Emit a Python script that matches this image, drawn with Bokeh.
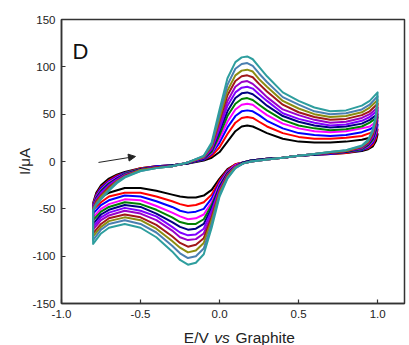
from bokeh.plotting import figure
from bokeh.layouts import column
from bokeh.models import FixedTicker, PrintfTickFormatter, Label, Arrow, NormalHead
from bokeh.embed import file_html
from bokeh.resources import INLINE

# potentials (V vs graphite) for the forward (upper) and reverse (lower) sweeps
E_fwd = [-0.80, -0.78, -0.75, -0.70, -0.65, -0.60, -0.50, -0.40, -0.30, -0.20, -0.10, -0.05,
         0.00, 0.05, 0.10, 0.14, 0.175, 0.21, 0.25, 0.30, 0.40, 0.50, 0.60, 0.70, 0.80, 0.90, 0.95, 1.00]
E_rev = [0.99, 0.97, 0.94, 0.90, 0.80, 0.70, 0.60, 0.50, 0.40, 0.30, 0.20, 0.15, 0.10, 0.05,
         0.00, -0.05, -0.10, -0.15, -0.20, -0.25, -0.30, -0.40, -0.50, -0.60, -0.70, -0.75, -0.80]

# currents (uA), one curve per colour, innermost (black) to outermost (teal)
fwd_black = [-44, -33, -25, -18, -14, -11, -7, -5, -4, -2, 1, 4, 10, 21, 32, 37, 38, 37, 34, 30, 24, 21, 20, 20, 21, 23, 25, 29]
rev_black = [22, 16, 13, 11, 9, 8, 7, 6, 4, 3, 1, -1, -3, -8, -18, -30, -36, -38, -38, -37, -35, -31, -28, -28, -33, -38, -46]
fwd_red = [-45, -35, -27, -20, -15, -12, -7, -5, -4, -2, 2, 6, 15, 29, 41, 46, 47, 46, 42, 37, 30, 26, 24, 24, 25, 27, 30, 34]
rev_red = [25, 18, 14, 12, 9, 8, 7, 6, 4, 3, 1, -1, -3, -9, -20, -35, -43, -46, -47, -45, -42, -37, -33, -33, -37, -43, -51]
fwd_blue = [-46, -36, -28, -21, -16, -12, -8, -5, -4, -2, 2, 8, 20, 36, 48, 53, 54, 53, 49, 43, 35, 30, 28, 27, 28, 31, 34, 39]
rev_blue = [28, 20, 15, 12, 10, 8, 7, 6, 4, 3, 1, -1, -4, -10, -22, -39, -50, -53, -54, -52, -48, -42, -37, -36, -41, -46, -55]
fwd_magenta = [-47, -37, -30, -22, -17, -13, -8, -6, -4, -2, 3, 9, 24, 42, 55, 60, 61, 60, 55, 49, 40, 35, 32, 31, 32, 35, 37, 43]
rev_magenta = [31, 22, 16, 13, 10, 9, 7, 6, 4, 3, 1, -1, -4, -11, -24, -43, -56, -60, -61, -58, -54, -47, -41, -40, -45, -50, -59]
fwd_green = [-47, -38, -31, -23, -18, -13, -8, -6, -4, -2, 3, 10, 28, 48, 61, 66, 67, 65, 60, 54, 44, 38, 35, 33, 34, 37, 41, 47]
rev_green = [33, 23, 17, 13, 10, 9, 7, 6, 4, 3, 1, -1, -5, -12, -26, -46, -61, -66, -66, -64, -59, -51, -45, -43, -48, -53, -62]
fwd_navy = [-48, -39, -32, -24, -18, -14, -8, -6, -4, -2, 3, 12, 32, 53, 67, 72, 73, 71, 66, 59, 48, 42, 38, 36, 37, 40, 44, 50]
rev_navy = [35, 25, 18, 14, 10, 9, 7, 6, 4, 3, 1, -1, -5, -13, -27, -49, -66, -71, -72, -69, -64, -55, -48, -46, -51, -56, -66]
fwd_violet = [-48, -40, -33, -25, -19, -14, -9, -6, -5, -1, 4, 13, 35, 59, 73, 78, 79, 77, 71, 64, 51, 45, 41, 38, 39, 43, 47, 54]
rev_violet = [38, 26, 19, 14, 11, 9, 8, 6, 4, 2, 0, -2, -5, -14, -29, -52, -71, -77, -78, -75, -69, -58, -52, -49, -54, -59, -69]
fwd_purple = [-49, -41, -35, -26, -20, -15, -9, -6, -5, -1, 4, 14, 39, 64, 79, 84, 85, 82, 76, 68, 55, 49, 44, 41, 42, 46, 50, 57]
rev_purple = [40, 28, 19, 15, 11, 9, 8, 6, 4, 2, 0, -2, -6, -14, -30, -56, -76, -82, -83, -80, -73, -62, -55, -52, -57, -62, -72]
fwd_wine = [-50, -42, -36, -27, -21, -15, -9, -6, -5, -1, 5, 16, 43, 70, 85, 90, 91, 89, 82, 74, 60, 52, 47, 44, 45, 49, 53, 61]
rev_wine = [42, 29, 20, 15, 11, 9, 8, 6, 4, 2, 0, -2, -6, -15, -32, -59, -81, -88, -90, -86, -79, -67, -59, -56, -60, -66, -76]
fwd_olive = [-50, -44, -37, -29, -21, -16, -9, -7, -5, -1, 5, 17, 46, 75, 91, 96, 97, 95, 87, 79, 64, 56, 50, 47, 48, 52, 57, 65]
rev_olive = [45, 31, 21, 16, 11, 10, 8, 6, 4, 2, 0, -2, -6, -16, -33, -62, -86, -94, -96, -91, -84, -71, -62, -59, -63, -69, -79]
fwd_steel = [-51, -45, -39, -30, -22, -16, -10, -7, -5, -1, 6, 18, 50, 81, 98, 103, 104, 101, 93, 84, 68, 60, 53, 50, 51, 55, 60, 69]
rev_steel = [47, 32, 22, 16, 12, 10, 8, 6, 4, 2, 0, -2, -7, -17, -35, -66, -92, -100, -102, -97, -89, -75, -66, -62, -66, -72, -83]
fwd_teal = [-52, -46, -40, -31, -23, -17, -10, -7, -5, -1, 6, 20, 55, 88, 105, 110, 111, 108, 100, 90, 73, 64, 57, 53, 54, 59, 64, 73]
rev_teal = [50, 34, 23, 17, 12, 10, 8, 6, 4, 2, 0, -2, -7, -18, -37, -70, -98, -107, -109, -104, -95, -80, -70, -66, -70, -76, -87]

curve_colors = ["#000000", "#FF0000", "#0000FF", "#FF00FF", "#008000", "#000080",
                "#8000FF", "#9A00C8", "#A01818", "#8C8C10", "#4A7FB0", "#2E9E9E"]
fwd_sets = [fwd_black, fwd_red, fwd_blue, fwd_magenta, fwd_green, fwd_navy,
            fwd_violet, fwd_purple, fwd_wine, fwd_olive, fwd_steel, fwd_teal]
rev_sets = [rev_black, rev_red, rev_blue, rev_magenta, rev_green, rev_navy,
            rev_violet, rev_purple, rev_wine, rev_olive, rev_steel, rev_teal]

x_ticks = [-1.0, -0.5, 0.0, 0.5, 1.0]
y_ticks = [-150, -100, -50, 0, 50, 100, 150]
arrow_start = (-0.766, -1)
arrow_end = (-0.532, 5.3)

FONT = "Liberation Sans"
AX = "#333333"

p = figure(width=409, height=324, x_range=(-1.0, 1.17), y_range=(-150, 150),
           output_backend="svg", toolbar_location=None,
           min_border_left=61, min_border_right=5, min_border_top=19, min_border_bottom=21)
p.background_fill_color = "white"
p.border_fill_color = "white"
p.outline_line_color = AX
p.outline_line_width = 1.5
p.xgrid.visible = False
p.ygrid.visible = False

for col, f, r in zip(curve_colors, fwd_sets, rev_sets):
    xs = E_fwd + E_rev + [E_fwd[0]]
    ys = f + r + [f[0]]
    p.line(xs, ys, line_color=col, line_width=2, line_join="round")

for ax in (p.xaxis[0], p.yaxis[0]):
    ax.axis_line_color = AX
    ax.axis_line_width = 1.5
    ax.major_tick_line_color = AX
    ax.major_tick_line_width = 1.2
    ax.major_tick_in = 4
    ax.major_tick_out = 0
    ax.minor_tick_line_color = None
    ax.major_label_text_font = FONT
    ax.major_label_text_font_size = "11.5px"
    ax.major_label_text_color = "#222222"
    ax.major_label_standoff = 6

p.xaxis.ticker = FixedTicker(ticks=x_ticks)
p.xaxis.formatter = PrintfTickFormatter(format="%.1f")
p.yaxis.ticker = FixedTicker(ticks=y_ticks)
p.yaxis.formatter = PrintfTickFormatter(format="%d")

p.yaxis.axis_label = "I/\u03bcA"
p.yaxis.axis_label_text_font = FONT
p.yaxis.axis_label_text_font_size = "15px"
p.yaxis.axis_label_text_font_style = "normal"
p.yaxis.axis_label_text_color = "#222222"
p.yaxis.axis_label_standoff = -4

# panel letter
p.add_layout(Label(x=-0.93, y=116, text="D", text_font=FONT, text_font_size="22px",
                   text_color="#111111", text_baseline="alphabetic"))

# sweep direction arrow
p.add_layout(Arrow(x_start=arrow_start[0], y_start=arrow_start[1],
                   x_end=arrow_end[0], y_end=arrow_end[1],
                   line_color="#222222", line_width=1,
                   end=NormalHead(size=7, fill_color="#222222", line_color="#222222")))

# x axis title strip (allows the italic "vs")
t = figure(width=409, height=21, x_range=p.x_range, y_range=(0, 21),
           output_backend="svg", toolbar_location=None,
           x_axis_location=None, y_axis_location=None,
           min_border_left=61, min_border_right=5, min_border_top=0, min_border_bottom=0)
t.outline_line_color = None
t.xgrid.visible = False
t.ygrid.visible = False
t.background_fill_color = "white"
t.border_fill_color = "white"
t.add_layout(Label(x=-0.068, y=8, text="E/V", text_font=FONT, text_font_size="15.5px",
                   text_color="#222222", text_align="right", text_baseline="alphabetic"))
t.add_layout(Label(x=0.016, y=8, text="vs", text_font=FONT, text_font_size="15.5px",
                   text_font_style="italic", text_color="#222222",
                   text_align="center", text_baseline="alphabetic"))
t.add_layout(Label(x=0.101, y=8, text="Graphite", text_font=FONT, text_font_size="15.5px",
                   text_color="#222222", text_align="left", text_baseline="alphabetic"))

layout = column(p, t, spacing=0)
open("out.html", "w").write(file_html(layout, INLINE))
